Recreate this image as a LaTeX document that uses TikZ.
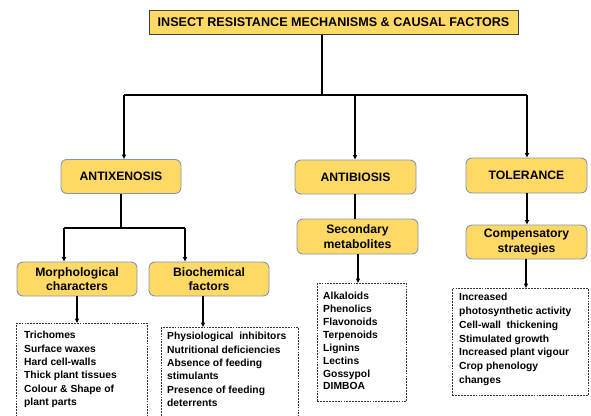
\documentclass[tikz,border=0pt]{standalone}
\usepackage{fontspec}
\setmainfont{Liberation Sans}
\usetikzlibrary{arrows.meta,positioning,calc}
\definecolor{boxfill}{HTML}{FFD966}
\definecolor{boxedge}{HTML}{8497B0}
\definecolor{titleedge}{HTML}{404040}
\begin{document}
\begin{tikzpicture}[x=1pt,y=-1pt,
  mech/.style={draw=boxedge,line width=0.9pt,fill=boxfill,rounded corners=6pt,
    minimum width=120pt,minimum height=34pt,align=center,inner sep=1pt,
    font=\bfseries\fontsize{12.2}{14.5}\selectfont},
  titlebox/.style={draw=titleedge,line width=1pt,fill=boxfill,minimum width=369pt,
    minimum height=24pt,inner sep=0pt,font=\bfseries\fontsize{12.6}{14}\selectfont},
  listbox/.style={draw=black!80,dashed,dash pattern=on 1.8pt off 1.1pt,line width=0.8pt,
    anchor=north west,inner sep=0pt},
  listtext/.style={anchor=north west,align=left,inner sep=0pt,
    font=\bfseries\fontsize{10.3}{13.4}\selectfont},
  conn/.style={line width=1.2pt,black},
  arr/.style={conn,-{Triangle[length=4.5pt,width=4pt]}}]
\useasboundingbox (0,0) rectangle (591,415);
% title
\node[titlebox] (title) at (333.5,22) {INSECT RESISTANCE MECHANISMS \& CAUSAL FACTORS};
% level 1
\node[mech] (antix) at (121,176.5) {ANTIXENOSIS};
\node[mech,minimum width=121pt] (antib) at (355.5,177) {ANTIBIOSIS};
\node[mech,minimum width=121pt,minimum height=35pt] (toler) at (526.5,175.5) {TOLERANCE};
% level 2
\node[mech] (morph) at (77,279) {Morphological\\characters};
\node[mech] (bioch) at (209,279) {Biochemical\\factors};
\node[mech,minimum width=121pt,minimum height=35pt] (secm) at (357.5,236.5) {Secondary\\metabolites};
\node[mech,minimum width=121pt] (comp) at (526.5,242) {Compensatory\\strategies};
% lists
\node[listbox,minimum width=131pt,minimum height=93pt] (mlist) at (16,323) {};
\node[listtext] (mtext) at (24,331)
  {Trichomes\\Surface waxes\\Hard cell-walls\\Thick plant tissues\\Colour \& Shape of\\plant parts};
\node[listbox,minimum width=137pt,minimum height=89pt] (blist) at (161,327) {};
\node[listtext] (btext) at (167,332)
  {Physiological\ \ inhibitors\\Nutritional deficiencies\\Absence of feeding\\stimulants\\Presence of feeding\\deterrents};
\node[listbox,minimum width=89pt,minimum height=118pt] (slist) at (317,283) {};
\node[listtext,font=\bfseries\fontsize{10.3}{12.9}\selectfont] (stext) at (323,292)
  {Alkaloids\\Phenolics\\Flavonoids\\Terpenoids\\Lignins\\Lectins\\Gossypol\\DIMBOA};
\node[listbox,minimum width=136pt,minimum height=107pt] (tlist) at (452,288) {};
\node[listtext,font=\bfseries\fontsize{10.3}{13.8}\selectfont] (ttext) at (459,293)
  {Increased\\photosynthetic activity\\Cell-wall\ \ thickening\\Stimulated growth\\Increased plant vigour\\Crop phenology\\changes};
% connectors top
\coordinate (tj) at (322,95);
\coordinate (tl) at (124,95);
\coordinate (tm) at (355,95);
\coordinate (tr) at (527,95);
\draw[conn] (title.south -| tj) -- (tj);
\draw[conn] (tl) -- (tr);
\draw[arr] (tl) -- (antix.north -| tl);
\draw[arr] (tm) -- (antib.north -| tm);
\draw[arr] (tr) -- (toler.north -| tr);
% antixenosis branch
\coordinate (aj) at (121,228);
\coordinate (ajl) at (64,228);
\coordinate (ajr) at (185,228);
\draw[conn] (antix.south) -- (aj);
\draw[conn] (ajl) -- (ajr);
\draw[arr] (ajl) -- (morph.north -| ajl);
\draw[arr] (ajr) -- (bioch.north -| ajr);
\coordinate (mx) at (77,0);
\coordinate (bx) at (203,0);
\draw[arr] (morph.south -| mx) -- (mlist.north -| mx);
\draw[arr] (bioch.south -| bx) -- (blist.north -| bx);
% antibiosis branch
\coordinate (ax) at (355,0);
\draw[conn] (antib.south -| ax) -- (secm.north -| ax);
\coordinate (sx) at (358,0);
\draw[arr] (secm.south -| sx) -- (slist.north -| sx);
% tolerance branch
\coordinate (ux) at (527,0);
\draw[arr] (toler.south -| ux) -- (comp.north -| ux);
\coordinate (cx) at (526,0);
\draw[arr] (comp.south -| cx) -- (tlist.north -| cx);
\end{tikzpicture}
\end{document}
